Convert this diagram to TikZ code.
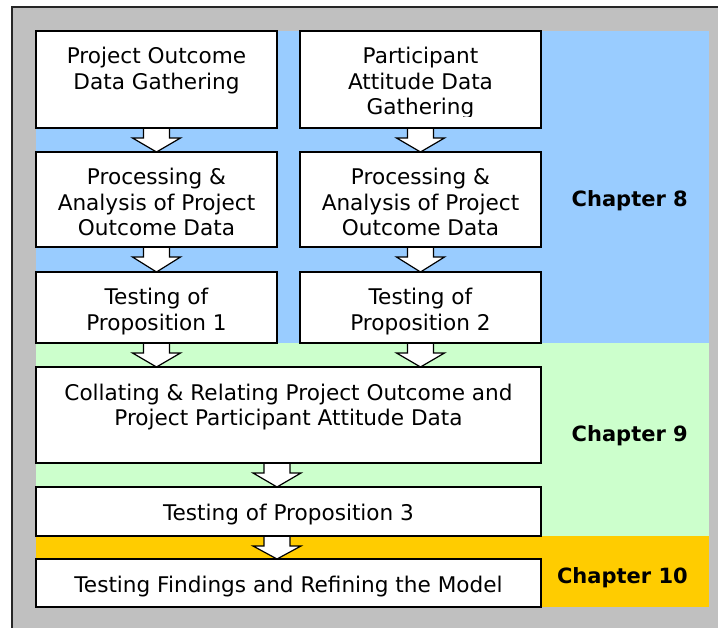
\documentclass[tikz,border=0pt]{standalone}
\usepackage{fontspec}
\setmainfont{DejaVu Sans}
\usetikzlibrary{calc}
\definecolor{framegray}{HTML}{C0C0C0}
\definecolor{chblue}{HTML}{99CCFF}
\definecolor{chgreen}{HTML}{CCFFCC}
\definecolor{chorange}{HTML}{FFCC00}
\pgfdeclarelayer{bg}\pgfdeclarelayer{arr}\pgfsetlayers{bg,arr,main}
\newcommand\boxtext[3]{\parbox[c][#1][t]{#2}{\centering\rule{0pt}{33pt}#3}}
\newcommand\blockarrow[2]{%
  \path[barrow] let \p1=(#1), \p2=(#2) in
    (\x1-13pt,\y1) -- (\x1-13pt,\y1-10pt) -- (\x1-24pt,\y1-10pt) -- (\x1,\y2)
    -- (\x1+24pt,\y1-10pt) -- (\x1+13pt,\y1-10pt) -- (\x1+13pt,\y1) -- cycle;}
\tikzset{
  stagebox/.style={draw=black, line width=1.5pt, fill=white, inner sep=0pt,
    outer sep=0pt, anchor=north west, font=\fontsize{21.6}{25.5}\selectfont},
  barrow/.style={draw=black, line width=1.2pt, fill=white, line join=miter},
  chapter/.style={font=\fontsize{21}{25}\selectfont\bfseries, anchor=base east,
    inner sep=0pt}
}
\begin{document}
\begin{tikzpicture}[x=1pt, y=-1pt]
\useasboundingbox (0,0) rectangle (718,628);
\clip (0,0) rectangle (718,628);
\begin{pgfonlayer}{bg}
  \fill[framegray] (12,7) rectangle (740,650);
  \draw[line width=2pt, black!85] (740,7) -- (12,7) -- (12,650);
  \fill[chblue] (36,31) rectangle (709,343);
  \fill[chgreen] (36,343) rectangle (709,536);
  \fill[chorange] (36,536) rectangle (709,607);
\end{pgfonlayer}
% boxes
\node[stagebox] (b1) at (36,31) {\boxtext{97pt}{241pt}{Project Outcome\\Data Gathering}};
\node[stagebox] (b2) at (300,31) {\parbox[c][97pt][t]{241pt}{\mbox{}}};
\begin{scope}
  \clip (300,31) rectangle (541,117);
  \node[stagebox, draw=none, fill=none] (t2) at (300,31)
    {\boxtext{97pt}{241pt}{Participant\\Attitude Data\\Gathering}};
\end{scope}
\node[stagebox] (b3) at (36,152) {\boxtext{95pt}{241pt}{Processing \&\\Analysis of Project\\Outcome Data}};
\node[stagebox] (b4) at (300,152) {\boxtext{95pt}{241pt}{Processing \&\\Analysis of Project\\Outcome Data}};
\node[stagebox] (b5) at (36,272) {\boxtext{71pt}{241pt}{Testing of\\Proposition 1}};
\node[stagebox] (b6) at (300,272) {\boxtext{71pt}{241pt}{Testing of\\Proposition 2}};
\node[stagebox] (b7) at (36,367) {\boxtext{96pt}{505pt}{Collating \& Relating Project Outcome and\\Project Participant Attitude Data}};
\node[stagebox] (b8) at (36,487) {\boxtext{49pt}{505pt}{Testing of Proposition 3}};
\node[stagebox] (b9) at (36,559) {\boxtext{48pt}{505pt}{Testing Findings and Refining the Model}};
% chapter labels
\node[chapter] (c8) at (688,207) {Chapter 8};
\node[chapter] (c9) at (688,442) {Chapter 9};
\node[chapter] (c10) at (688,583) {Chapter 10};
% arrows
\begin{pgfonlayer}{arr}
  \coordinate (a7) at ($(b7.south west)+(241,0)$);
  \coordinate (a8) at ($(b8.south west)+(241,0)$);
  \blockarrow{b1.south}{b3.north}
  \blockarrow{b2.south}{b4.north}
  \blockarrow{b3.south}{b5.north}
  \blockarrow{b4.south}{b6.north}
  \blockarrow{b5.south}{b7.north}
  \blockarrow{b6.south}{b7.north}
  \blockarrow{a7}{b8.north}
  \blockarrow{a8}{b9.north}
\end{pgfonlayer}
\end{tikzpicture}
\end{document}
